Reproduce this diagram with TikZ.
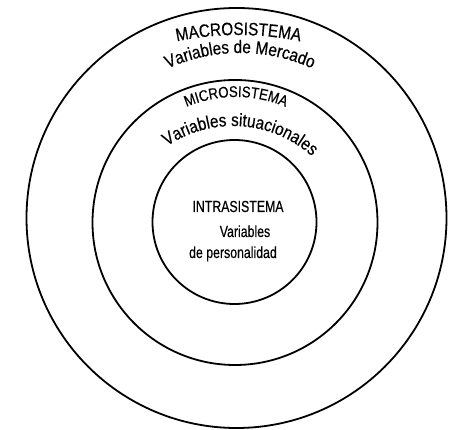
\documentclass[tikz,border=0pt]{standalone}
\usepackage{fontspec}
\newfontfamily\cond[FakeStretch=0.85,FakeBold=0.4]{Liberation Sans}
\newfontfamily\condin[FakeStretch=0.77,FakeBold=0.4]{Liberation Sans}
\usetikzlibrary{decorations.text}

\begin{document}
\begin{tikzpicture}[x=1pt,y=1pt]
   \useasboundingbox (0,0) rectangle (452,430);
   \tikzstyle{ring}=[circle, draw=black, line width=1.8pt, inner sep=0pt]
   \tikzstyle{curved}=[decorate, decoration={text along path, text align=center}]
   \tikzstyle{inner}=[anchor=base, inner sep=0pt, font=\condin\fontsize{16}{18}\selectfont]
   \node[ring, minimum size=420pt] (macro) at (236.5,212) {};
   \node[ring, minimum size=285pt] (micro) at (235,207.5) {};
   \node[ring, minimum size=164pt] (intra) at (234.5,208) {};
   % curved labels along the rings
   \path[curved, decoration={text={|\cond\fontsize{18}{20}\selectfont|MACROSISTEMA}}]
      (238.5,95) ++(105:300) arc (105:75:300);
   \path[curved, decoration={text={|\cond\fontsize{18}{20}\selectfont|Variables de Mercado}}]
      (240,202) ++(120:175) arc (120:60:175);
   \path[curved, decoration={text={|\cond\fontsize{15.5}{17}\selectfont|MICROSISTEMA}}]
      (236,205) ++(125:128) arc (125:55:128);
   \path[curved, decoration={text={|\cond\fontsize{18}{20}\selectfont|Variables situacionales}}]
      (233,186) ++(136:118) arc (136:36:118);
   % inner circle text
   \node[inner] (intratitle) at (238,218) {INTRASISTEMA};
   \node[inner] (intravar) at (245,193) {Variables};
   \node[inner] (intrapers) at (233,172) {de personalidad};
\end{tikzpicture}
\end{document}
